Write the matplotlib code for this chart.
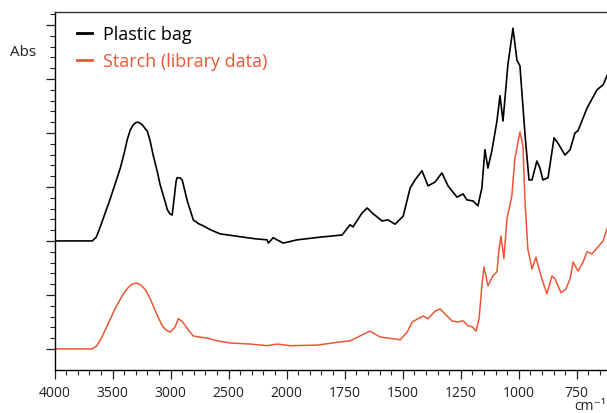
import numpy as np
import matplotlib
matplotlib.use("Agg")
import matplotlib.pyplot as plt
from matplotlib.ticker import FixedLocator, NullFormatter

plt.rcParams['font.family'] = ['Open Sans', 'DejaVu Sans']

# FTIR spectra, wavenumber (cm-1) vs absorbance
bag_wn = [4000, 3675, 3640, 3606, 3563, 3520, 3477, 3433, 3399, 3373, 3348,
          3322, 3300, 3278, 3244, 3200, 3176, 3150, 3114, 3090, 3054, 3028,
          3005, 2986, 2952, 2944, 2920, 2900, 2856, 2804, 2760, 2718, 2650,
          2572, 2470, 2374, 2270, 2168, 2158, 2116, 2030, 1955, 1856, 1761,
          1727, 1714, 1675, 1653, 1632, 1589, 1563, 1533, 1498, 1468, 1447,
          1417, 1391, 1361, 1331, 1305, 1266, 1240, 1223, 1197, 1176, 1159,
          1146, 1133, 1116, 1094, 1081, 1068, 1047, 1025, 1008, 995, 973,
          956, 943, 922, 909, 896, 874, 848, 831, 801, 779, 758, 745, 706,
          663, 637, 620]
bag_abs = [0.000, 0.000, 0.007, 0.026, 0.052, 0.078, 0.106, 0.135, 0.163,
           0.188, 0.205, 0.215, 0.219, 0.220, 0.215, 0.203, 0.185, 0.159,
           0.128, 0.104, 0.078, 0.058, 0.050, 0.048, 0.111, 0.117, 0.117,
           0.113, 0.074, 0.039, 0.032, 0.028, 0.020, 0.013, 0.010, 0.007,
           0.004, 0.002, -0.004, 0.006, -0.004, 0.002, 0.007, 0.011, 0.030,
           0.026, 0.052, 0.061, 0.052, 0.037, 0.039, 0.031, 0.046, 0.098,
           0.113, 0.130, 0.102, 0.109, 0.126, 0.102, 0.081, 0.087, 0.076,
           0.074, 0.065, 0.098, 0.169, 0.135, 0.167, 0.222, 0.269, 0.222,
           0.326, 0.394, 0.335, 0.324, 0.196, 0.113, 0.113, 0.148, 0.135,
           0.113, 0.117, 0.191, 0.181, 0.159, 0.169, 0.200, 0.204, 0.246,
           0.280, 0.289, 0.306]

starch_wn = [4000, 3675, 3640, 3606, 3563, 3520, 3477, 3433, 3400, 3364,
             3330, 3296, 3260, 3218, 3185, 3150, 3110, 3072, 3040, 3004,
             2960, 2934, 2912, 2890, 2850, 2804, 2750, 2684, 2600, 2486,
             2314, 2168, 2082, 1985, 1869, 1770, 1727, 1684, 1641, 1597,
             1511, 1481, 1459, 1434, 1412, 1391, 1361, 1339, 1309, 1288,
             1266, 1240, 1219, 1201, 1184, 1171, 1159, 1150, 1133, 1112,
             1094, 1086, 1077, 1064, 1051, 1030, 1017, 995, 982, 973, 961,
             943, 926, 913, 896, 879, 857, 844, 818, 797, 779, 766, 745, 723,
             706, 685, 659, 637, 620]
starch_abs = [0.000, 0.000, 0.005, 0.016, 0.035, 0.055, 0.075, 0.092,
              0.104, 0.114, 0.120, 0.122, 0.119, 0.110, 0.097, 0.080, 0.060,
              0.043, 0.035, 0.031, 0.041, 0.056, 0.053, 0.048, 0.036, 0.024,
              0.022, 0.020, 0.015, 0.011, 0.009, 0.006, 0.009, 0.006, 0.007,
              0.013, 0.015, 0.024, 0.033, 0.022, 0.017, 0.031, 0.050, 0.056,
              0.061, 0.056, 0.070, 0.074, 0.061, 0.052, 0.050, 0.052, 0.043,
              0.041, 0.033, 0.056, 0.117, 0.152, 0.117, 0.135, 0.143, 0.180,
              0.209, 0.167, 0.241, 0.283, 0.352, 0.402, 0.376, 0.272, 0.185,
              0.148, 0.170, 0.148, 0.124, 0.102, 0.135, 0.130, 0.104, 0.111,
              0.130, 0.161, 0.144, 0.161, 0.180, 0.176, 0.189, 0.200, 0.222]

bag_offset = 0.2
labels = ["Plastic bag", "Starch (library data)"]
colors = ["black", "#ee5535"]

major_wn = [4000, 3500, 3000, 2500, 2000, 1750, 1500, 1250, 1000, 750]
minor_wn = [w for w in range(3900, 2000, -100) if w % 500] + \
           [w for w in range(1950, 600, -50) if w % 250]


# axis is compressed by 2x above 2000 cm-1
def fwd(x):
    x = np.asarray(x, dtype=float)
    return np.where(x > 2000, 2000 + (x - 2000) / 2, x)


def inv(u):
    u = np.asarray(u, dtype=float)
    return np.where(u > 2000, 2000 + 2 * (u - 2000), u)


fig = plt.figure(figsize=(6.07, 4.14), dpi=100)
ax = fig.add_axes([0.0898, 0.1039, 0.9102, 0.8647])
ax.set_xscale('function', functions=(fwd, inv))

ax.plot(bag_wn, np.array(bag_abs) + bag_offset, color=colors[0], lw=1.2,
        label=labels[0])
ax.plot(starch_wn, starch_abs, color=colors[1], lw=1.1, label=labels[1])

ax.set_xlim(4000, 620)
ax.set_ylim(-0.039, 0.624)

ax.xaxis.set_major_locator(FixedLocator(major_wn))
ax.xaxis.set_major_formatter(plt.FixedFormatter([str(w) for w in major_wn]))
ax.xaxis.set_minor_locator(FixedLocator(minor_wn))
ax.xaxis.set_minor_formatter(NullFormatter())

ax.yaxis.set_major_locator(FixedLocator(np.arange(0, 0.61, 0.1)))
ax.yaxis.set_minor_locator(FixedLocator(np.arange(0, 0.63, 0.02)))
ax.yaxis.set_major_formatter(NullFormatter())

ax.tick_params(axis='both', which='major', length=6.5, width=0.9,
               direction='out', color='#222222')
ax.tick_params(axis='both', which='minor', length=3.5, width=0.8,
               direction='out', color='#222222')
ax.tick_params(axis='x', labelsize=10, pad=4.5, colors='#222222')

ax.spines['right'].set_visible(False)
ax.spines['top'].set_color('#333333')
for s in ['left', 'bottom', 'top']:
    ax.spines[s].set_linewidth(1.0)

fig.text(23 / 607, 1 - 53 / 414, "Abs", ha='center', va='center',
         fontsize=11, color='#222222')
fig.text(606 / 607, 1 - 407 / 414, "cm\u207b\u00b9", ha='right', va='center',
         fontsize=10, color='#222222')

leg = ax.legend(loc='upper left', bbox_to_anchor=(0.040, 0.964),
                frameon=False, fontsize=13, handlelength=0.85,
                handletextpad=0.6, labelspacing=0.52, borderpad=0,
                borderaxespad=0, labelcolor='linecolor')
for h in leg.get_lines():
    h.set_linewidth(2)

fig.savefig("out.png", dpi=100)
